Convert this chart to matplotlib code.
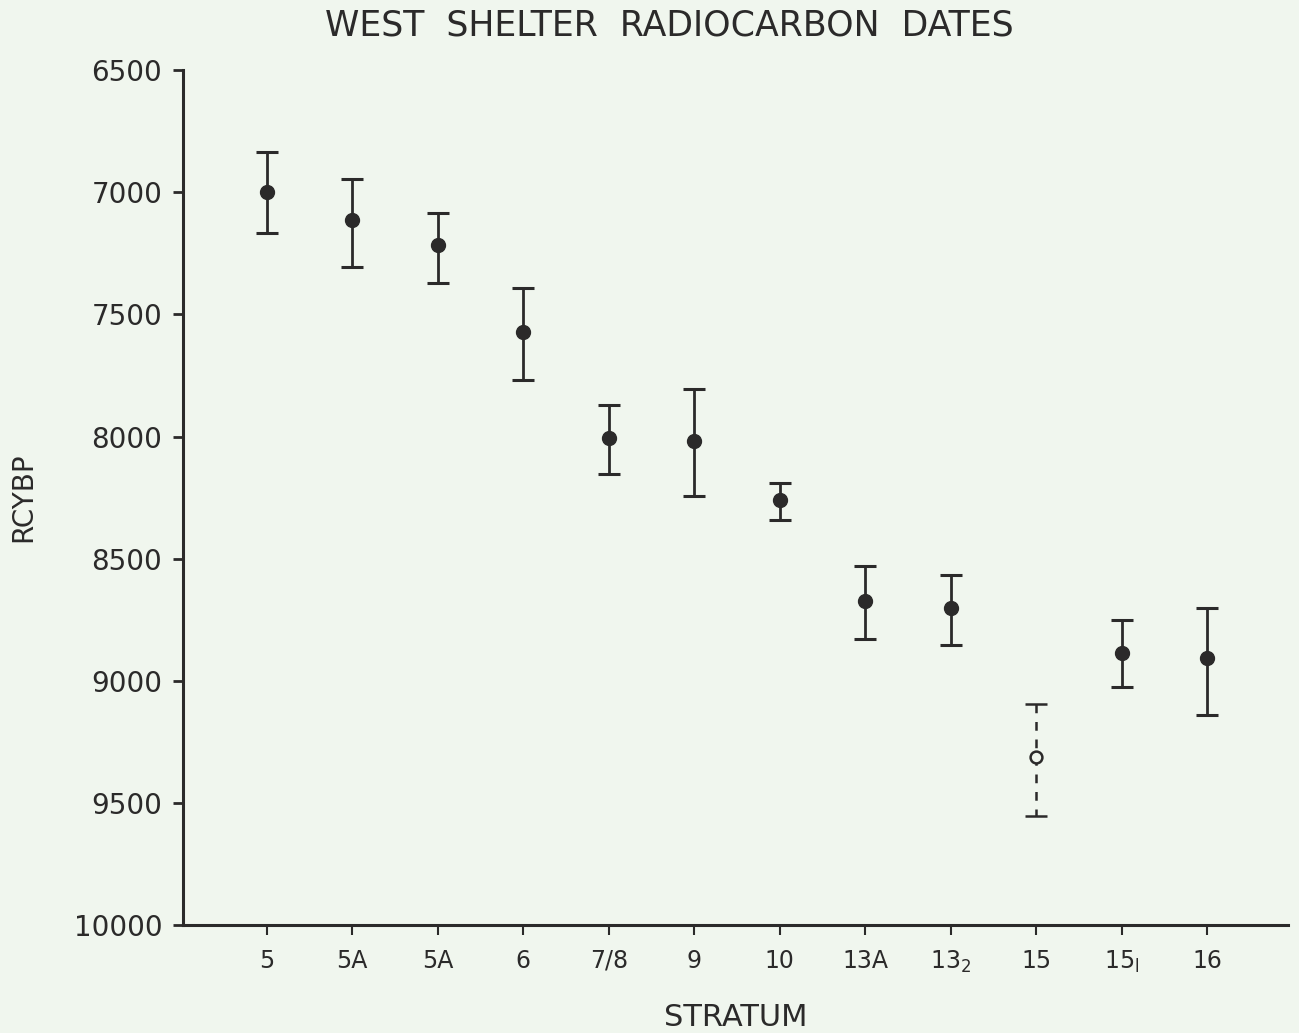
import numpy as np
import matplotlib.pyplot as plt

# Strata and radiocarbon dates
strata = ['5', '5A', '5A', '6', '7/8', '9', '10', '13A',
          r'$\mathregular{13_2}$', '15', r'$\mathregular{15_{l}}$', '16']
dates = [7000, 7115, 7215, 7570, 8005, 8020, 8260, 8675, 8700, 9310, 8885, 8905]
err_low = [165, 170, 130, 180, 135, 215, 70, 145, 135, 215, 135, 205]
err_high = [165, 190, 155, 200, 150, 225, 80, 155, 155, 245, 140, 235]
uncertain = [False] * 9 + [True] + [False] * 2

ink = '#2b2a2a'
bg = '#f0f6ee'

plt.rcParams['font.family'] = ['DejaVu Sans']
fig = plt.figure(figsize=(12.99, 10.33), dpi=100, facecolor=bg)
ax = fig.add_axes([0.1409, 0.1045, 0.851, 0.8275], facecolor=bg)

x = np.arange(1, len(strata) + 1)
for xi, d, lo, hi, unc in zip(x, dates, err_low, err_high, uncertain):
    if unc:
        eb = ax.errorbar(xi, d, yerr=[[lo], [hi]], fmt='o', ms=8.5, mfc=bg, mec=ink,
                         mew=1.8, ecolor=ink, elinewidth=1.8, capsize=8, capthick=2.2)
        eb[2][0].set_linestyle((0, (3.5, 3.5)))
    else:
        ax.errorbar(xi, d, yerr=[[lo], [hi]], fmt='o', ms=10, color=ink,
                    ecolor=ink, elinewidth=2, capsize=8, capthick=2.2)

ax.set_xlim(0.02, 12.95)
ax.set_ylim(10000, 6500)
ax.set_yticks(np.arange(6500, 10001, 500))
ax.set_xticks(x)
ax.set_xticklabels(strata)

for s in ['top', 'right']:
    ax.spines[s].set_visible(False)
for s in ['left', 'bottom']:
    ax.spines[s].set_linewidth(2.2)
    ax.spines[s].set_color(ink)

ax.tick_params(axis='y', direction='out', length=7, width=2, colors=ink,
               labelsize=20, pad=8)
ax.tick_params(axis='x', direction='out', length=7, width=1.5, colors=ink,
               labelsize=17, pad=10)

ax.set_ylabel('RCYBP', fontsize=20, color=ink, labelpad=26)
ax.set_xlabel('STRATUM', fontsize=22, color=ink, labelpad=20)
fig.text(0.515, 0.975, 'WEST  SHELTER  RADIOCARBON  DATES', ha='center', va='center',
         fontsize=25, color=ink)

fig.savefig('out.png', dpi=100, facecolor=bg)
